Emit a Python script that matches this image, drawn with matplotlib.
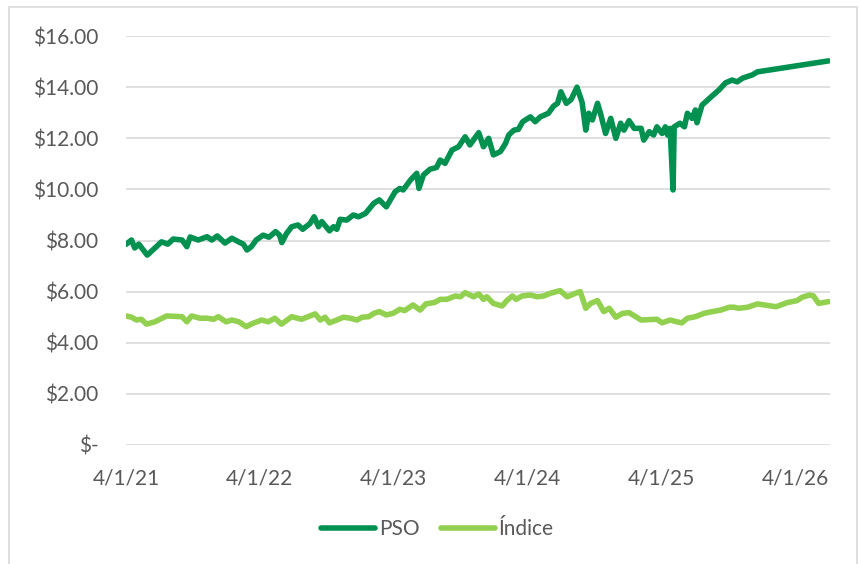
import matplotlib
matplotlib.use("Agg")
import matplotlib.pyplot as plt
import pandas as pd
from matplotlib.patches import Rectangle

plt.rcParams['font.family'] = ['Lato', 'DejaVu Sans']

# PSO series
pso_dates = [
    "2021-04-01", "2021-04-16", "2021-04-25", "2021-05-06", "2021-05-29", "2021-06-13",
    "2021-07-07", "2021-07-24", "2021-08-08", "2021-09-01", "2021-09-14", "2021-09-23",
    "2021-10-15", "2021-11-08", "2021-11-21", "2021-12-06", "2021-12-27", "2022-01-15",
    "2022-02-02", "2022-02-15", "2022-02-25", "2022-03-09", "2022-03-22", "2022-04-10",
    "2022-04-26", "2022-05-14", "2022-05-25", "2022-05-31", "2022-06-13", "2022-06-27",
    "2022-07-14", "2022-07-27", "2022-08-16", "2022-08-27", "2022-09-08", "2022-09-17",
    "2022-10-08", "2022-10-19", "2022-10-28", "2022-11-06", "2022-11-24", "2022-12-12",
    "2022-12-26", "2023-01-14", "2023-02-06", "2023-02-21", "2023-03-12", "2023-04-05",
    "2023-04-18", "2023-04-27", "2023-05-17", "2023-06-03", "2023-06-09", "2023-06-21",
    "2023-07-09", "2023-07-27", "2023-08-06", "2023-08-19", "2023-09-07", "2023-09-25",
    "2023-10-13", "2023-10-26", "2023-11-19", "2023-12-02", "2023-12-16", "2023-12-29",
    "2024-01-17", "2024-01-31", "2024-02-09", "2024-02-23", "2024-03-06", "2024-03-18",
    "2024-04-08", "2024-04-21", "2024-05-05", "2024-05-27", "2024-06-10", "2024-06-21",
    "2024-06-30", "2024-07-15", "2024-07-28", "2024-08-13", "2024-08-27", "2024-09-06",
    "2024-09-14", "2024-09-24", "2024-10-08", "2024-10-16", "2024-10-30", "2024-11-13",
    "2024-11-27", "2024-12-10", "2024-12-19", "2025-01-02", "2025-01-16", "2025-02-04",
    "2025-02-11", "2025-02-26", "2025-03-10", "2025-03-19", "2025-04-02", "2025-04-11",
    "2025-04-17", "2025-04-24", "2025-05-02", "2025-05-05", "2025-05-21", "2025-06-02",
    "2025-06-10", "2025-06-23", "2025-07-02", "2025-07-06", "2025-07-20", "2025-08-12",
    "2025-09-04", "2025-09-22", "2025-10-10", "2025-10-24", "2025-11-07", "2025-11-25",
    "2025-12-04", "2025-12-18", "2026-06-30",
]
pso_values = [
    7.85, 8.02, 7.71, 7.86, 7.43, 7.63,
    7.95, 7.86, 8.06, 8.02, 7.76, 8.14,
    8.02, 8.15, 8.02, 8.18, 7.90, 8.09,
    7.95, 7.86, 7.63, 7.76, 8.02, 8.21,
    8.13, 8.35, 8.21, 7.92, 8.28, 8.54,
    8.61, 8.44, 8.67, 8.93, 8.54, 8.74,
    8.38, 8.54, 8.44, 8.83, 8.80, 9.00,
    8.93, 9.06, 9.46, 9.59, 9.32, 9.91,
    10.04, 9.98, 10.37, 10.63, 10.04, 10.56,
    10.79, 10.86, 11.15, 11.02, 11.54, 11.67,
    12.06, 11.74, 12.22, 11.67, 12.00, 11.35,
    11.48, 11.80, 12.13, 12.32, 12.35, 12.65,
    12.84, 12.65, 12.84, 12.98, 13.26, 13.37,
    13.82, 13.37, 13.52, 14.00, 13.40, 12.32,
    12.98, 12.72, 13.37, 12.98, 12.19, 12.78,
    12.00, 12.59, 12.32, 12.69, 12.39, 12.39,
    11.93, 12.26, 12.13, 12.45, 12.19, 12.45,
    12.13, 12.39, 9.98, 12.45, 12.59, 12.45,
    12.98, 12.78, 13.11, 12.61, 13.30, 13.60,
    13.89, 14.17, 14.28, 14.21, 14.35, 14.44,
    14.48, 14.60, 15.03,
]

# Índice series
idx_dates = [
    "2021-04-01", "2021-04-16", "2021-04-30", "2021-05-13", "2021-05-27", "2021-06-19",
    "2021-07-21", "2021-09-01", "2021-09-14", "2021-09-27", "2021-10-20", "2021-11-08",
    "2021-11-26", "2021-12-09", "2021-12-30", "2022-01-15", "2022-02-03", "2022-02-23",
    "2022-03-13", "2022-04-06", "2022-04-24", "2022-05-12", "2022-05-30", "2022-06-27",
    "2022-07-24", "2022-08-30", "2022-09-13", "2022-09-26", "2022-10-08", "2022-10-28",
    "2022-11-15", "2022-12-04", "2022-12-22", "2023-01-05", "2023-01-23", "2023-02-06",
    "2023-02-21", "2023-03-12", "2023-03-30", "2023-04-18", "2023-05-01", "2023-05-24",
    "2023-06-12", "2023-06-28", "2023-07-22", "2023-08-06", "2023-08-24", "2023-09-16",
    "2023-09-30", "2023-10-13", "2023-11-05", "2023-11-19", "2023-12-02", "2023-12-11",
    "2023-12-29", "2024-01-22", "2024-02-05", "2024-02-19", "2024-02-29", "2024-03-16",
    "2024-04-08", "2024-04-26", "2024-05-14", "2024-06-02", "2024-06-28", "2024-07-17",
    "2024-08-13", "2024-08-22", "2024-09-06", "2024-09-19", "2024-10-08", "2024-10-25",
    "2024-11-09", "2024-11-27", "2024-12-15", "2025-01-02", "2025-02-04", "2025-03-19",
    "2025-04-02", "2025-04-24", "2025-05-13", "2025-05-26", "2025-06-10", "2025-07-02",
    "2025-07-25", "2025-08-17", "2025-09-09", "2025-10-02", "2025-10-15", "2025-10-28",
    "2025-11-21", "2025-12-18", "2026-02-07", "2026-03-09", "2026-04-05", "2026-04-19",
    "2026-05-09", "2026-05-20", "2026-06-03", "2026-06-30",
]
idx_values = [
    5.05, 5.00, 4.89, 4.92, 4.73, 4.82,
    5.05, 5.02, 4.82, 5.05, 4.96, 4.96,
    4.92, 5.02, 4.82, 4.89, 4.82, 4.63,
    4.76, 4.89, 4.82, 4.96, 4.73, 5.02,
    4.92, 5.13, 4.89, 5.00, 4.78, 4.89,
    5.00, 4.96, 4.89, 5.00, 5.02, 5.15,
    5.22, 5.09, 5.15, 5.31, 5.26, 5.48,
    5.28, 5.52, 5.58, 5.70, 5.70, 5.83,
    5.80, 5.96, 5.80, 5.91, 5.70, 5.80,
    5.54, 5.44, 5.67, 5.83, 5.70, 5.83,
    5.87, 5.80, 5.83, 5.94, 6.04, 5.80,
    5.96, 6.00, 5.35, 5.54, 5.65, 5.22,
    5.35, 5.00, 5.15, 5.18, 4.89, 4.92,
    4.78, 4.89, 4.82, 4.78, 4.96, 5.02,
    5.15, 5.22, 5.28, 5.39, 5.39, 5.35,
    5.39, 5.52, 5.41, 5.57, 5.65, 5.78,
    5.87, 5.83, 5.54, 5.61,
]

tick_dates = ["2021-04-01", "2022-04-01", "2023-04-01", "2024-04-01", "2025-04-01", "2026-04-01"]
y_ticks = [0, 2, 4, 6, 8, 10, 12, 14, 16]

pso_color = "#009050"
idx_color = "#92D050"
text_color = "#595959"

fig = plt.figure(figsize=(8.61, 5.64), dpi=100)
ax = fig.add_axes([0.1463, 0.211, 0.8177, 0.725])

ax.plot(pd.to_datetime(pso_dates), pso_values, color=pso_color, lw=4.0,
        solid_joinstyle="round", solid_capstyle="round", label="PSO", zorder=3)
ax.plot(pd.to_datetime(idx_dates), idx_values, color=idx_color, lw=4.0,
        solid_joinstyle="round", solid_capstyle="round", label="Índice", zorder=3)

ax.set_ylim(0, 16)
ax.set_xlim(pd.Timestamp("2021-04-01"), pd.Timestamp("2026-07-04"))
ax.set_yticks(y_ticks)
ax.set_yticklabels(["$-" if v == 0 else f"${v:.2f}" for v in y_ticks])
ticks = pd.to_datetime(tick_dates)
ax.set_xticks(ticks)
ax.set_xticklabels([f"{d.month}/{d.day}/{d.year % 100}" for d in ticks])

ax.grid(axis="y", color="#D9D9D9", lw=1.2)
ax.set_axisbelow(True)
for s in ax.spines.values():
    s.set_visible(False)
ax.tick_params(axis="both", length=0, colors=text_color, labelsize=15)
ax.tick_params(axis="y", pad=20)
ax.tick_params(axis="x", pad=17)

fig.legend(loc="center", bbox_to_anchor=(0.508, 0.062), ncol=2, frameon=False,
           fontsize=15, handlelength=2.6, handletextpad=0.2, columnspacing=1.0,
           labelcolor=text_color)

# light frame around the chart area (bottom edge runs off the image)
fig.patches.append(Rectangle((8.5 / 861, -0.02), 848 / 861, 1.02 - 7 / 564,
                             transform=fig.transFigure, fill=False,
                             edgecolor="#D9D9D9", lw=1.2))

fig.savefig("out.png", dpi=100)
